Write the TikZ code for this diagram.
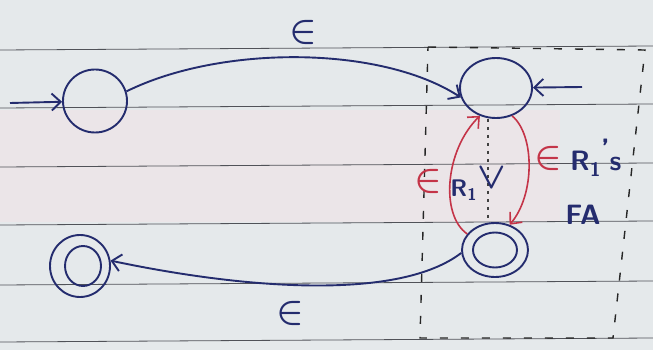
\documentclass[tikz,border=0pt]{standalone}
\usepackage{amssymb}
\usepackage{graphicx}
\usetikzlibrary{arrows.meta,shapes.geometric}
\definecolor{paper}{RGB}{229,233,235}
\definecolor{pinkband}{RGB}{235,229,232}
\definecolor{rule}{RGB}{80,82,88}
\definecolor{ink}{RGB}{36,44,110}
\definecolor{redink}{RGB}{196,52,72}
\newcommand{\bigeps}{\scalebox{3.6}{\boldmath$\in$}}
\tikzset{
  state/.style={draw=ink, line width=1.9pt, ellipse, inner sep=0pt},
  arr/.style={draw=ink, line width=1.9pt, -{Straight Barb[length=9pt,width=17pt,line width=1.9pt]}},
  redarr/.style={draw=redink, line width=1.6pt, -{Straight Barb[length=9pt,width=16pt,line width=1.6pt]}},
  lbl/.style={text=ink, font=\sffamily\bfseries\fontsize{28}{28}\selectfont, inner sep=0pt},
  redlbl/.style={text=redink, inner sep=0pt},
  epslbl/.style={text=ink, inner sep=0pt},
  paperline/.style={draw=rule, line width=0.8pt},
  boxline/.style={draw=black!85, line width=1.4pt, dash pattern=on 8pt off 13pt}
}
\begin{document}
\begin{tikzpicture}[x=1pt,y=-1pt]
\useasboundingbox (0,0) rectangle (653,350);
\fill[paper] (0,0) rectangle (653,350);
\fill[pinkband] (0,110) rectangle (560,222);
% notebook rules
\foreach \y in {50,108,167,225,285,342}
  \draw[paperline] (0,\y) -- (653,\y-4);
% dashed box
\draw[boxline] (428,47) -- (645,50) -- (613,338) -- (420,338) -- cycle;
% states
\node[state, minimum width=64pt, minimum height=63pt] (q0) at (95,101) {};
\node[state, minimum width=60pt, minimum height=62pt] (fo) at (80,266) {};
\node[state, minimum width=36pt, minimum height=40pt] (fi) at (83,266) {};
\node[state, minimum width=72pt, minimum height=60pt] (q1) at (496,88) {};
\node[state, minimum width=66pt, minimum height=54pt] (q2) at (495,250) {};
\node[state, minimum width=44pt, minimum height=35pt] (q2i) at (495,250) {};
% connectors
\coordinate (s0) at (10,103);
\coordinate (s1) at (582,87);
\draw[arr] (s0) -- (q0);
\draw[arr] (s1) -- (q1);
\draw[arr] (q0.17) .. controls (220,45) and (380,45) .. (q1.195);
\draw[arr] (q2.185) .. controls (400,300) and (250,290) .. (fo.10);
\draw[redarr] (q2.150) .. controls (440,215) and (445,150) .. (q1.240);
\draw[redarr] (q1.300) .. controls (535,135) and (535,195) .. (q2.60);
\draw[black!75, line width=1.8pt, dash pattern=on 3pt off 5pt] ([xshift=-8pt]q1.south) -- ([xshift=-7pt]q2.north);
% labels
\node[epslbl] (e1) at (303,33) {\bigeps};
\node[epslbl] (e2) at (290,313) {\bigeps};
\node[redlbl] (e3) at (428,181) {\bigeps};
\node[redlbl] (e4) at (548,158) {\bigeps};
\node[lbl, anchor=west] (r1s) at (570,158) {R\textsubscript{1}\raisebox{12pt}{'}s};
\node[lbl] (fa) at (583,215) {FA};
\node[lbl, font=\sffamily\bfseries\fontsize{24}{24}\selectfont] (r1v) at (478,184) {R\textsubscript{1}\raisebox{8pt}{\scalebox{1.5}{\boldmath$\vee$}}};
\end{tikzpicture}
\end{document}
